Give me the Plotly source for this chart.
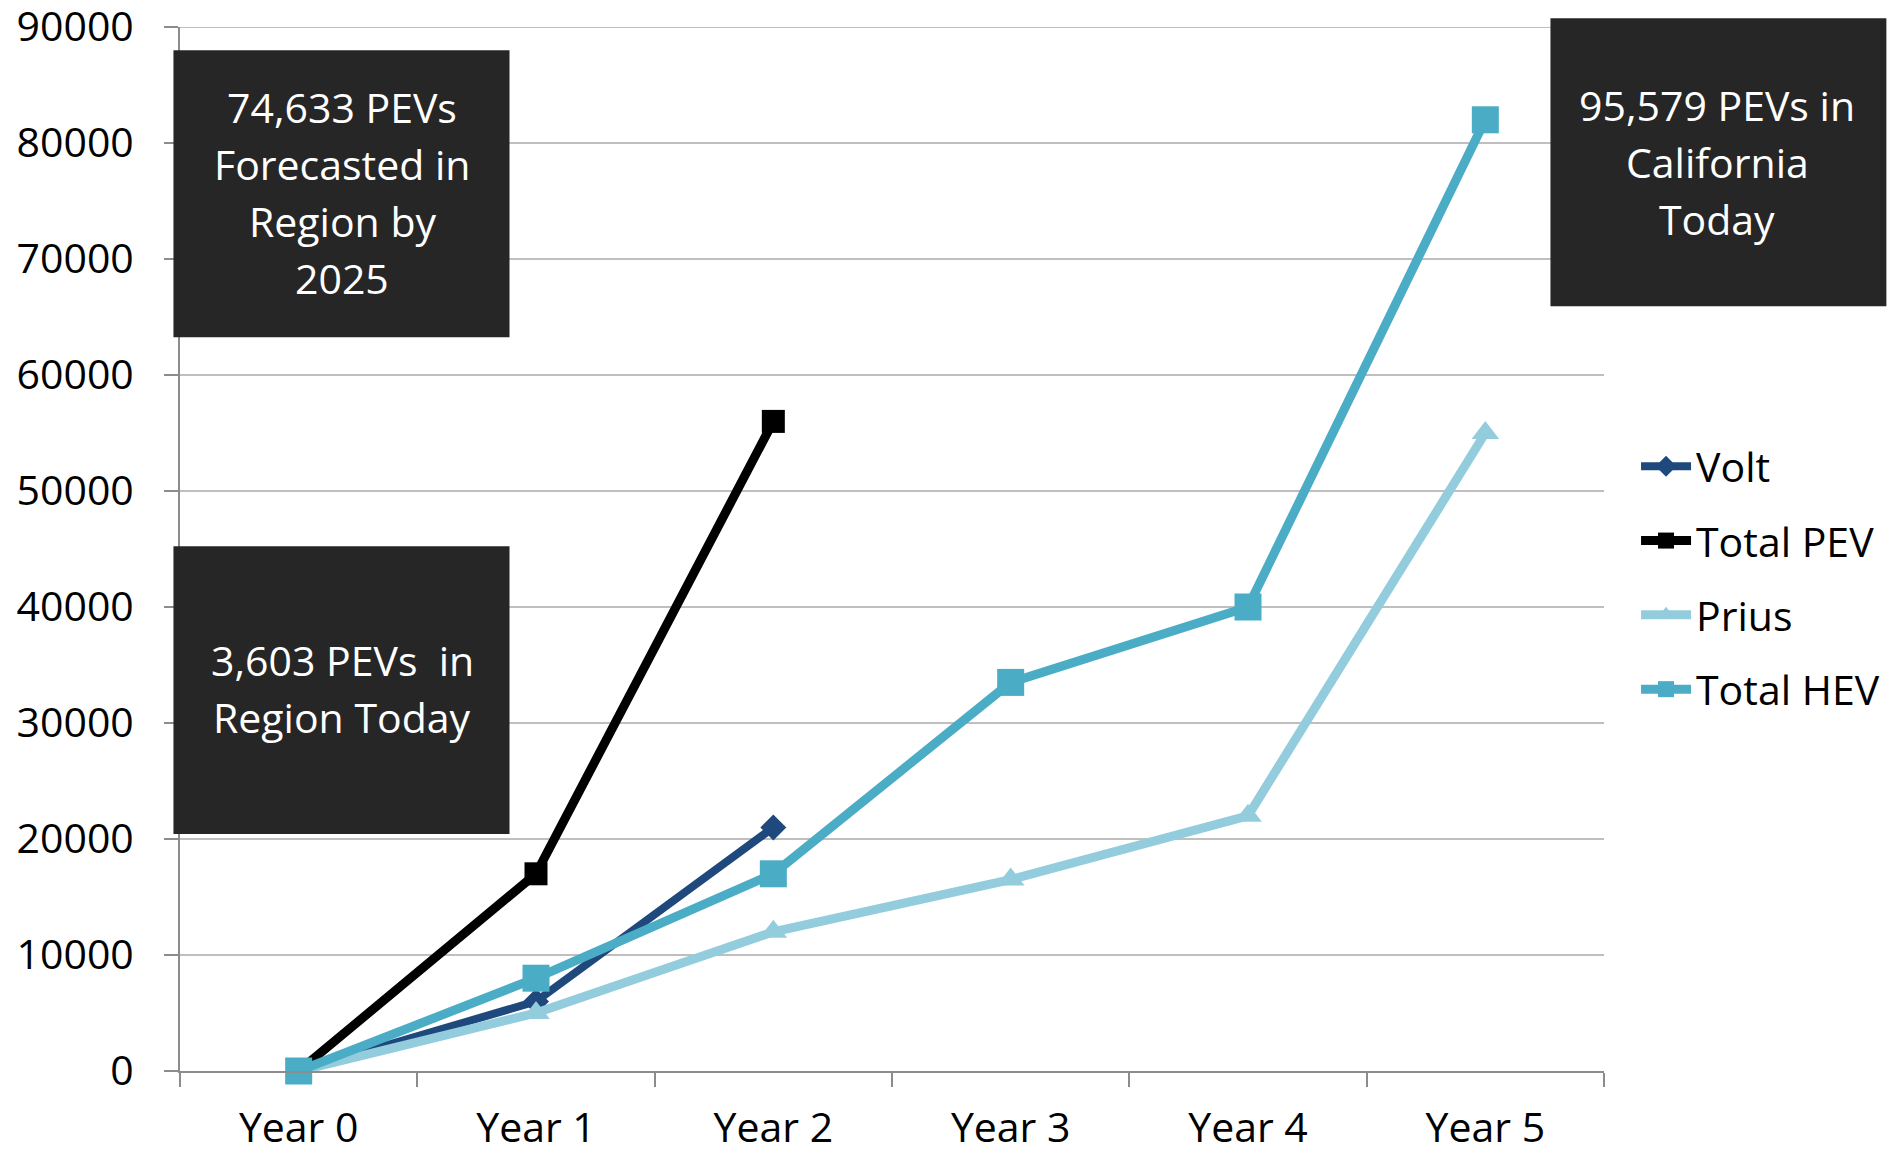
import plotly.graph_objects as go

years = ["Year 0", "Year 1", "Year 2", "Year 3", "Year 4", "Year 5"]
volt = [0, 6000, 21000]
total_pev = [0, 17000, 56000]
prius = [0, 5000, 12000, 16500, 22000, 55000]
total_hev = [0, 8000, 17000, 33500, 40000, 82000]
y_ticks = [0, 10000, 20000, 30000, 40000, 50000, 60000, 70000, 80000, 90000]

box_texts = [
    ["74,633 PEVs", "Forecasted in", "Region by", "2025"],
    ["3,603 PEVs  in", "Region Today"],
    ["95,579 PEVs in", "California", "Today"],
]

FONT = "Open Sans"
# page body has an 8px margin, so the figure is sized to fit inside it
W, H = 1886, 1136
GRID = "#BFBFBF"

fig = go.Figure()
fig.add_trace(go.Scatter(x=years[:len(volt)], y=volt, name="Volt", mode="lines+markers",
                         line=dict(color="#1F497D", width=8),
                         marker=dict(symbol="diamond", size=20, color="#1F497D"),
                         legendgroup="a", cliponaxis=False))
fig.add_trace(go.Scatter(x=years[:len(total_pev)], y=total_pev, name="Total PEV", mode="lines+markers",
                         line=dict(color="#000000", width=9),
                         marker=dict(symbol="square", size=23, color="#000000"),
                         legendgroup="b", cliponaxis=False))
fig.add_trace(go.Scatter(x=years, y=prius, name="Prius", mode="lines+markers",
                         line=dict(color="#93CDDD", width=9),
                         marker=dict(symbol="triangle-up", size=24, color="#93CDDD"),
                         legendgroup="c", cliponaxis=False))
fig.add_trace(go.Scatter(x=years, y=total_hev, name="Total HEV", mode="lines+markers",
                         line=dict(color="#4BACC6", width=9),
                         marker=dict(symbol="square", size=27, color="#4BACC6"),
                         legendgroup="d", cliponaxis=False))

# top gridline (plotly drops gridlines sitting on the plot edge)
fig.add_shape(type="line", xref="paper", yref="y", x0=0, x1=1, y0=y_ticks[-1], y1=y_ticks[-1],
              line=dict(color=GRID, width=2), layer="below")

box_color = "#262626"
# (x0, x1, y0, y1, text center x, text center y) in paper coordinates
boxes = [(-0.0046, 0.2314, 0.7029, 0.9777, 0.1141, 0.8388),
         (-0.0046, 0.2314, 0.2269, 0.5027, 0.1141, 0.3639),
         (0.9624, 1.1983, 0.7325, 1.0083, 1.0797, 0.8685)]
LINE_H = 57
for (x0, x1, y0, y1, cx, cy), lines in zip(boxes, box_texts):
    fig.add_shape(type="rect", xref="paper", yref="paper", x0=x0, x1=x1, y0=y0, y1=y1,
                  fillcolor=box_color, line=dict(width=0), layer="above")
    n = len(lines)
    for i, t in enumerate(lines):
        fig.add_annotation(text=t, xref="paper", yref="paper", x=cx, y=cy, showarrow=False,
                           xanchor="center", yanchor="middle", align="center",
                           yshift=((n - 1) / 2 - i) * LINE_H + 2.5,
                           font=dict(family=FONT, size=41, color="white"))

fig.update_layout(
    width=W, height=H,
    margin=dict(l=171.5, r=290.4, t=18.7, b=73, autoexpand=False),
    paper_bgcolor="white", plot_bgcolor="white",
    font=dict(family=FONT, size=41, color="#000000"),
    showlegend=True,
    legend=dict(x=1.0225, y=0.611, xanchor="left", yanchor="top",
                font=dict(family=FONT, size=41, color="#000000"),
                traceorder="grouped", tracegroupgap=18,
                bgcolor="rgba(0,0,0,0)", itemwidth=50),
    xaxis=dict(type="category", categoryorder="array", categoryarray=years,
               range=[-0.5, 5.5], showgrid=False, showline=True, linecolor="#8C8C8C",
               linewidth=2, ticks="outside", tickson="boundaries", ticklen=14,
               tickcolor="#8C8C8C", tickwidth=2, ticklabelstandoff=20, automargin=False,
               ticklabeloverflow="allow",
               tickfont=dict(family=FONT, size=41, color="#000000"), zeroline=False),
    yaxis=dict(range=[0, 90000], tickvals=y_ticks, ticktext=[str(v) for v in y_ticks],
               showgrid=True, gridcolor=GRID, gridwidth=2, showline=True,
               linecolor="#8C8C8C", linewidth=2, ticks="outside", ticklen=14,
               tickcolor="#8C8C8C", tickwidth=2, ticklabelstandoff=22, automargin=False,
               ticklabeloverflow="allow",
               tickfont=dict(family=FONT, size=41, color="#000000"), zeroline=False),
)

fig.write_html("out.html")
